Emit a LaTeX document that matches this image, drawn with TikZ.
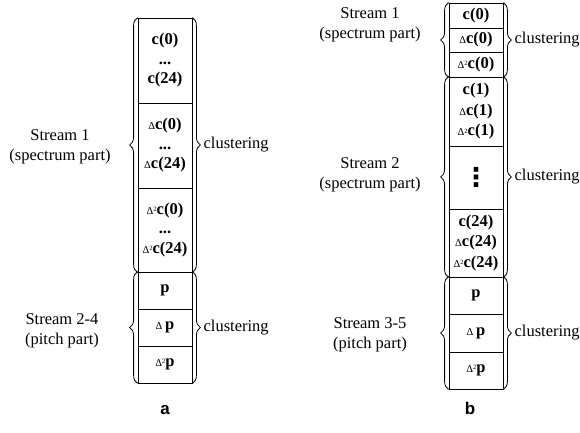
\documentclass[tikz,border=0pt]{standalone}
\usepackage{fontspec}
\setmainfont{Liberation Serif}
\newfontfamily\lblfont{Liberation Sans}
\newfontfamily\symfont{DejaVu Sans}
\usetikzlibrary{decorations.pathreplacing,calc}
\newcommand{\dlt}{{\mdseries\fontsize{10.5}{10.5}\selectfont Δ}}
\newcommand{\ddlt}{{\mdseries\fontsize{10.5}{10.5}\selectfont Δ\raisebox{0.6ex}{\fontsize{6.5}{6.5}\selectfont 2}}}
\newcommand{\myvdots}{{\symfont\bfseries\fontsize{26}{26}\selectfont ⋮}}
\tikzset{
  cell/.style={draw, line width=0.8pt, minimum width=54pt, inner sep=0pt, align=center,
    font=\fontsize{16.5}{19.5}\selectfont\bfseries},
  cellb/.style={cell, font=\fontsize{16.5}{20.5}\selectfont\bfseries},
  brc/.style={draw, line width=0.8pt, decorate, decoration={brace, amplitude=8pt}},
  lbl/.style={align=center, font=\fontsize{16.5}{20}\selectfont},
  clu/.style={anchor=west, inner sep=0pt, font=\fontsize{16.5}{20}\selectfont},
  pan/.style={font=\lblfont\bfseries\fontsize{17}{20}\selectfont}
}
\begin{document}
\begin{tikzpicture}[x=1pt,y=-1pt]
\useasboundingbox (0,0) rectangle (580,432);
% panel a
\node[cell, minimum height=85pt] (a1) at (165,60.5) {c(0)\\...\\c(24)};
\node[cell, minimum height=85pt] (a2) at (165,145.5) {\dlt c(0)\\...\\\dlt c(24)};
\node[cell, minimum height=84pt] (a3) at (165,230) {\ddlt c(0)\\...\\\ddlt c(24)};
\node[cell, minimum height=37pt] (a4) at (165,290.5) {p};
\node[cell, minimum height=37pt] (a5) at (165,327.5) {\dlt\,p};
\node[cell, minimum height=37pt] (a6) at (165,364.5) {\ddlt p};
\draw[brc] (a3.south west) -- (a1.north west);
\draw[brc] (a1.north east) -- (a3.south east);
\draw[brc] (a6.south west) -- (a4.north west);
\draw[brc] (a4.north east) -- (a6.south east);
\node[lbl] (sa1) at (60,147) {Stream 1\\(spectrum part)};
\node[lbl] (sa2) at (62,331) {Stream 2-4\\(pitch part)};
\node[clu] (ca1) at ($($(a1.north east)!0.5!(a3.south east)$)+(11,0)$) {clustering};
\node[clu] (ca2) at ($($(a4.north east)!0.5!(a6.south east)$)+(11,0)$) {clustering};
\node[pan] (la) at (165,410) {a};
% panel b
\node[cellb, minimum height=25pt] (b1) at (476,15.5) {c(0)};
\node[cellb, minimum height=24pt] (b2) at (476,40) {\dlt c(0)};
\node[cellb, minimum height=25pt] (b3) at (476,64.5) {\ddlt c(0)};
\node[cellb, minimum height=69pt] (b4) at (476,111.5) {c(1)\\\dlt c(1)\\\ddlt c(1)};
\node[cellb, minimum height=63pt] (b5) at (476,177.5) {\myvdots};
\node[cellb, minimum height=68pt] (b6) at (476,243) {c(24)\\\dlt c(24)\\\ddlt c(24)};
\node[cellb, minimum height=37pt] (b7) at (476,295.5) {p};
\node[cellb, minimum height=38pt] (b8) at (476,333) {\dlt\,p};
\node[cellb, minimum height=37pt] (b9) at (476,370.5) {\ddlt p};
\draw[brc] (b3.south west) -- (b1.north west);
\draw[brc] (b1.north east) -- (b3.south east);
\draw[brc] (b6.south west) -- (b4.north west);
\draw[brc] (b4.north east) -- (b6.south east);
\draw[brc] (b9.south west) -- (b7.north west);
\draw[brc] (b7.north east) -- (b9.south east);
\node[lbl] (sb1) at (370,24.5) {Stream 1\\(spectrum part)};
\node[lbl] (sb2) at (370,175) {Stream 2\\(spectrum part)};
\node[lbl] (sb3) at (370,335) {Stream 3-5\\(pitch part)};
\node[clu] (cb1) at ($($(b1.north east)!0.5!(b3.south east)$)+(11,0)$) {clustering};
\node[clu] (cb2) at ($($(b4.north east)!0.5!(b6.south east)$)+(11,0)$) {clustering};
\node[clu] (cb3) at ($($(b7.north east)!0.5!(b9.south east)$)+(11,0)$) {clustering};
\node[pan] (lb) at (470,408) {b};
\end{tikzpicture}
\end{document}
